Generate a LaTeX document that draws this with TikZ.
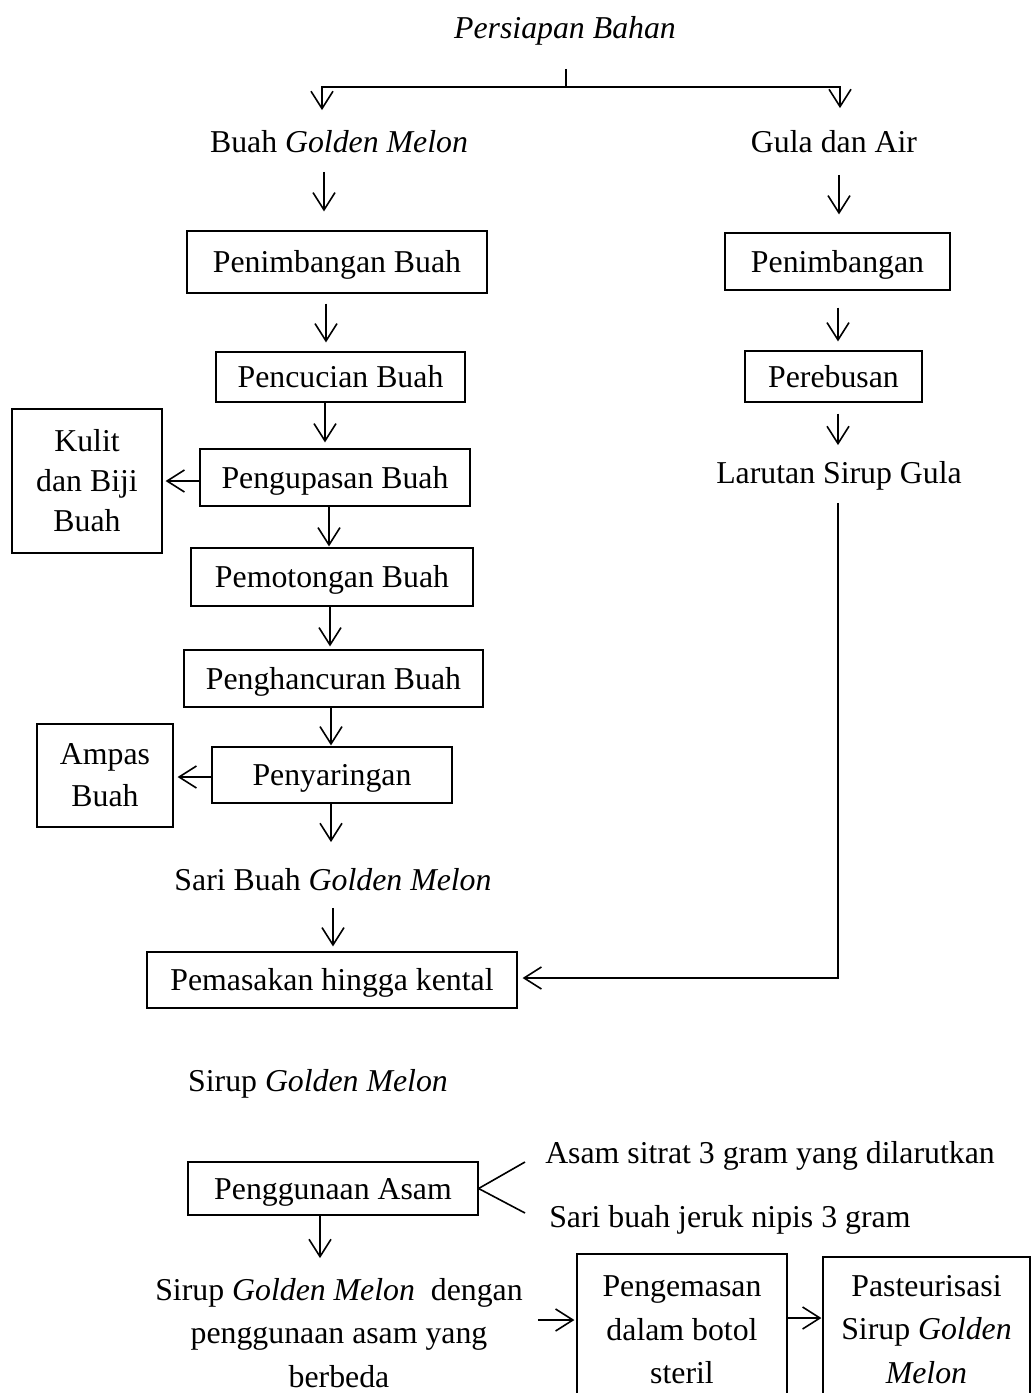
\documentclass[tikz,border=0pt]{standalone}
\usepackage{fontspec}
\setmainfont{Liberation Serif}
\usetikzlibrary{arrows.meta}
\newdimen\pxu
\pxu=0.75pt
\tikzset{
  base/.style={inner sep=0pt, font=\fontsize{23.85}{32.6}\selectfont},
  txt/.style={base, text height=17pt, text depth=5pt},
  box/.style={base, draw, line width=0.9pt, text height=20pt, text depth=4pt},
  mbox/.style={base, draw, line width=0.9pt, align=center},
  ln/.style={line width=1.2pt},
  arr/.style={line width=1.2pt, -{Straight Barb[length=13pt, width=16.5pt, line width=1.2pt]}},
}
\begin{document}
\begin{tikzpicture}[x=0.75pt, y=-0.75pt]
\useasboundingbox (0,0) rectangle (1032,1393);

% top
\node[txt] (psb) at (565,30) {\textit{Persiapan Bahan}};
\coordinate (sp) at (566,87);

% left column
\node[txt] (bgm) at (339,144) {Buah \textit{Golden Melon}};
\node[box, minimum width=300*\pxu, minimum height=62*\pxu] (pbu) at (337,262) {Penimbangan Buah};
\node[box, minimum width=249*\pxu, minimum height=50*\pxu] (pcu) at (340.5,377) {Pencucian Buah};
\node[box, minimum width=270*\pxu, minimum height=57*\pxu] (pgu) at (335,477.5) {Pengupasan Buah};
\node[mbox, font=\fontsize{23.85}{30}\selectfont, minimum width=150*\pxu, minimum height=144*\pxu] (kul) at (87,481) {Kulit\\dan Biji\\Buah};
\node[box, minimum width=282*\pxu, minimum height=58*\pxu] (pmo) at (332,577) {Pemotongan Buah};
\node[box, minimum width=299*\pxu, minimum height=57*\pxu] (phc) at (333.5,678.5) {Penghancuran Buah};
\node[box, minimum width=240*\pxu, minimum height=56*\pxu] (psr) at (332,775) {Penyaringan};
\node[mbox, font=\fontsize{23.85}{31.5}\selectfont, minimum width=136*\pxu, minimum height=103*\pxu] (amp) at (105,775.5) {Ampas\\Buah};
\node[txt] (sbg) at (333,882) {Sari Buah \textit{Golden Melon}};
\node[box, minimum width=370*\pxu, minimum height=56*\pxu] (pmk) at (332,980) {Pemasakan hingga kental};
\node[txt] (sgm) at (318,1083) {Sirup \textit{Golden Melon}};

% right column
\node[txt] (gda) at (834,144) {Gula dan Air};
\node[box, minimum width=225*\pxu, minimum height=57*\pxu] (pnb) at (837.5,261.5) {Penimbangan};
\node[box, minimum width=177*\pxu, minimum height=51*\pxu] (prb) at (833.5,376.5) {Perebusan};
\node[txt] (lsg) at (839,475) {Larutan Sirup Gula};

% acid part
\node[box, minimum width=290*\pxu, minimum height=53*\pxu] (pga) at (333,1188.5) {Penggunaan Asam};
\node[txt, anchor=west] (as1) at (545,1155) {Asam sitrat 3 gram yang dilarutkan};
\node[txt, anchor=west] (as2) at (549,1219) {Sari buah jeruk nipis 3 gram};
\coordinate (e1) at (525,1162);
\coordinate (e2) at (525,1213);
\node[base, align=center] (sgd) at (339,1333) {Sirup \textit{Golden Melon}\ \ dengan\\penggunaan asam yang\\berbeda};
\node[mbox, minimum width=210*\pxu, minimum height=152*\pxu] (pgm) at (682,1330) {Pengemasan\\dalam botol\\steril};
\node[mbox, minimum width=207*\pxu, minimum height=145*\pxu] (pst) at (926.5,1329.5) {Pasteurisasi\\Sirup \textit{Golden}\\\textit{Melon}};

% connectors
\draw[ln, shorten <=24*\pxu] (psb.south -| sp) -- (sp);
\draw[arr, shorten >=19*\pxu] (sp) -| (bgm.north -| 322,0);
\draw[arr, shorten >=21*\pxu] (sp) -| (gda.north -| 840,0);

\draw[arr, shorten <=13*\pxu, shorten >=19*\pxu] (bgm.south -| 324,0) -- (pbu.north -| 324,0);
\draw[arr, shorten <=10*\pxu, shorten >=9*\pxu] (pbu.south -| 326,0) -- (pcu.north -| 326,0);
\draw[arr, shorten >=6*\pxu] (pcu.south -| 325,0) -- (pgu.north -| 325,0);
\draw[arr, shorten >=3*\pxu] (pgu.west |- 0,481) -- (kul.east |- 0,481);
\draw[arr, shorten >=1*\pxu] (pgu.south -| 329,0) -- (pmo.north -| 329,0);
\draw[arr, shorten >=3*\pxu] (pmo.south -| 330,0) -- (phc.north -| 330,0);
\draw[arr, shorten >=1*\pxu] (phc.south -| 331,0) -- (psr.north -| 331,0);
\draw[arr, shorten >=4*\pxu] (psr.west |- 0,777) -- (amp.east |- 0,777);
\draw[arr, shorten >=25*\pxu] (psr.south -| 331,0) -- (sbg.north -| 331,0);
\draw[arr, shorten <=11*\pxu, shorten >=5*\pxu] (sbg.south -| 333,0) -- (pmk.north -| 333,0);

\draw[arr, shorten <=16*\pxu, shorten >=18*\pxu] (gda.south -| 839,0) -- (pnb.north -| 839,0);
\draw[arr, shorten <=17*\pxu, shorten >=9*\pxu] (pnb.south -| 838,0) -- (prb.north -| 838,0);
\draw[arr, shorten <=11*\pxu, shorten >=15*\pxu] (prb.south -| 838,0) -- (lsg.north -| 838,0);
\draw[arr, shorten <=13*\pxu, shorten >=5*\pxu] (lsg.south -| 838,0) |- (pmk.east |- 0,978);

\draw[ln] (pga.east) -- (e1);
\draw[ln] (pga.east) -- (e2);
\draw[arr, shorten >=20*\pxu] (pga.south -| 320,0) -- (sgd.north -| 320,0);
\draw[arr, shorten <=15*\pxu, shorten >=2*\pxu] (sgd.east |- 0,1320) -- (pgm.west |- 0,1320);
\draw[arr, shorten >=1*\pxu] (pgm.east |- 0,1318) -- (pst.west |- 0,1318);
\end{tikzpicture}
\end{document}
